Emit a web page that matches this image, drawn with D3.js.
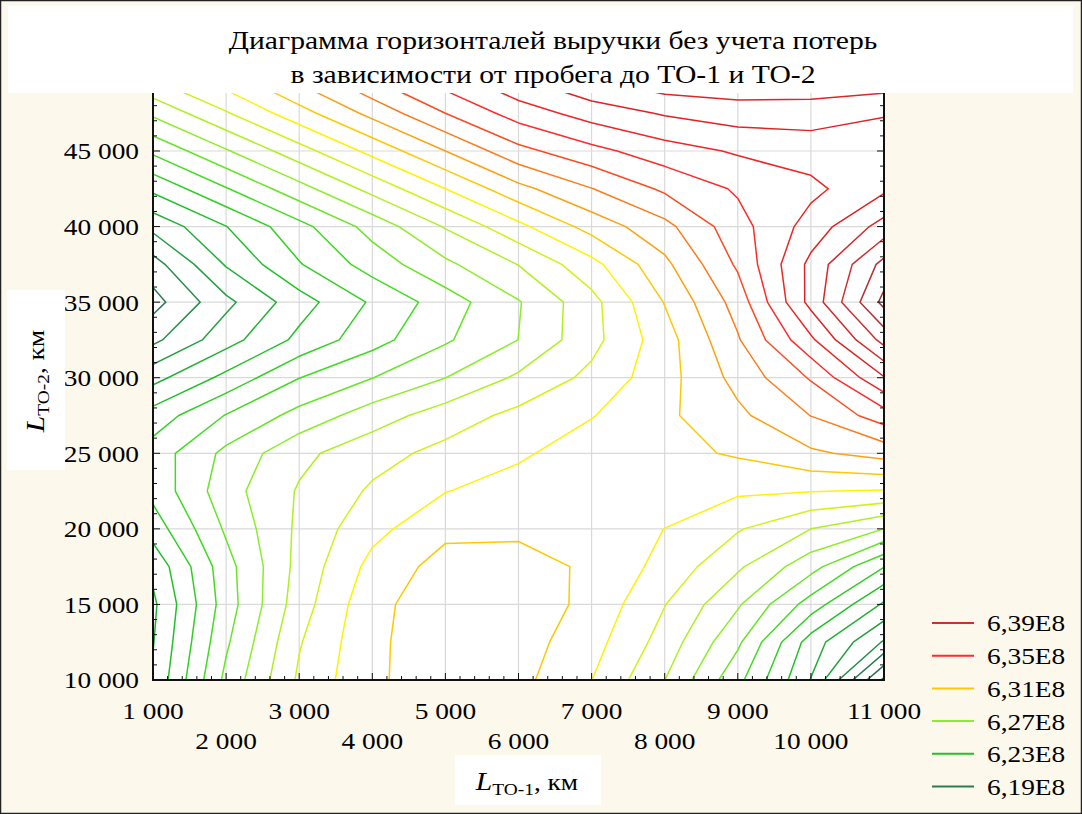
<!DOCTYPE html>
<html>
<head>
<meta charset="utf-8">
<script src="https://cdn.jsdelivr.net/npm/d3@7"></script>
<style>
  body { margin: 0; background: #fdf8ec; }
  svg text { font-family: 'Liberation Serif', 'Times New Roman', serif; fill: #000; }
</style>
</head>
<body>
<div id="chart"></div>
<script>
// Grid of the surface: пробег до ТО-1 (x) и ТО-2 (y), выручка в E8
const mileageTO1 = [1000, 2000, 3000, 4000, 5000, 6000, 7000, 8000, 9000, 10000, 11000];
const mileageTO2 = [10000, 12500, 15000, 17500, 20000, 22500, 25000, 27500, 30000,
                    32500, 35000, 37500, 40000, 42500, 45000, 47500, 50000];

// one row per mileageTO2 value, one column per mileageTO1 value
const revenue = [
  [6.2215, 6.2626, 6.2917, 6.3085, 6.315, 6.313, 6.3001, 6.2801, 6.2529, 6.2196, 6.168],
  [6.2195, 6.2584, 6.2892, 6.308, 6.316, 6.3145, 6.3039, 6.2859, 6.2619, 6.2253, 6.1989],
  [6.218, 6.255, 6.2853, 6.3072, 6.316, 6.316, 6.3073, 6.2903, 6.2713, 6.2455, 6.2185],
  [6.2226, 6.2562, 6.2833, 6.3031, 6.314, 6.314, 6.3083, 6.2968, 6.2816, 6.2638, 6.2403],
  [6.2345, 6.2615, 6.2821, 6.297, 6.3075, 6.308, 6.306, 6.2999, 6.2909, 6.28, 6.2699],
  [6.243, 6.2659, 6.281, 6.2914, 6.2997, 6.304, 6.305, 6.305, 6.3015, 6.3004, 6.2993],
  [6.2445, 6.2625, 6.2774, 6.2864, 6.2929, 6.2985, 6.305, 6.307, 6.3112, 6.3184, 6.3237],
  [6.2343, 6.2505, 6.2633, 6.2751, 6.2849, 6.2927, 6.2995, 6.308, 6.3178, 6.3302, 6.3453],
  [6.2167, 6.2328, 6.2498, 6.2598, 6.2699, 6.2817, 6.2926, 6.3061, 6.3233, 6.341, 6.3693],
  [6.1976, 6.216, 6.2325, 6.2462, 6.2587, 6.2701, 6.2868, 6.3056, 6.329, 6.358, 6.3936],
  [6.1863, 6.2075, 6.2257, 6.2414, 6.255, 6.2693, 6.2867, 6.3105, 6.3341, 6.3733, 6.413],
  [6.1959, 6.2209, 6.2393, 6.2544, 6.2679, 6.2803, 6.2967, 6.3176, 6.3416, 6.3727, 6.4033],
  [6.2128, 6.2298, 6.2468, 6.2638, 6.2808, 6.2974, 6.3139, 6.327, 6.3462, 6.3641, 6.384],
  [6.2323, 6.2493, 6.2663, 6.2833, 6.30, 6.317, 6.3297, 6.3418, 6.3513, 6.3575, 6.368],
  [6.252, 6.269, 6.286, 6.303, 6.320, 6.337, 6.347, 6.3556, 6.3612, 6.3645, 6.366],
  [6.272, 6.289, 6.306, 6.323, 6.340, 6.3545, 6.3644, 6.371, 6.3751, 6.3747, 6.3705],
  [6.292, 6.307, 6.324, 6.3415, 6.3567, 6.3708, 6.3816, 6.389, 6.389, 6.389, 6.3883]
];

// contour levels every 0,01E8, legend shows every 4th
const contourLevels = d3.range(616, 643).map(d => d / 100);
const legendLevels = [6.39, 6.35, 6.31, 6.27, 6.23, 6.19];

const xTickValues = [1000, 2000, 3000, 4000, 5000, 6000, 7000, 8000, 9000, 10000, 11000];
const yTickValues = [10000, 15000, 20000, 25000, 30000, 35000, 40000, 45000];

// colour ramp of the lines
const rampStops = [6.17, 6.19, 6.21, 6.23, 6.25, 6.27, 6.29, 6.30, 6.31, 6.32, 6.33, 6.34, 6.35, 6.37, 6.39, 6.41];
const rampColors = ['#245e44', '#2e7a55', '#27a043', '#22c126', '#3fdc20', '#8cee2a', '#d2f216', '#fff200',
                    '#ffc800', '#ffa010', '#ff7a1a', '#ff4a1e', '#ff2a2a', '#e02222', '#c83232', '#a03232'];
const color = d3.scaleLinear().domain(rampStops).range(rampColors).clamp(true);

// the original font is a wide Times: stretch text horizontally
const stretch = 1.14;
function widen(sel, extra) {
  sel.each(function () {
    const t = d3.select(this);
    const tx = +t.attr('x') || 0, ty = +t.attr('y') || 0;
    t.attr('x', 0).attr('y', 0)
      .attr('transform', `translate(${tx},${ty}) ${extra || ''} scale(${stretch},1)`);
  });
}

const W = 1082, H = 814;
const svg = d3.select('#chart').append('svg')
  .attr('width', W).attr('height', H);

svg.append('rect').attr('x', 0.5).attr('y', 0.5).attr('width', W - 1).attr('height', H - 1)
  .attr('fill', '#fdf8ec').attr('stroke', '#222').attr('stroke-width', 1.5);

const x = d3.scaleLinear().domain([1000, 11000]).range([153, 884]);
const y = d3.scaleLinear().domain([10000, 45000]).range([680, 151]);

const plotTop = y(50000);

// plot background
svg.append('rect')
  .attr('x', x(1000)).attr('y', plotTop)
  .attr('width', x(11000) - x(1000)).attr('height', y(10000) - plotTop)
  .attr('fill', '#fff');

// grid
const grid = svg.append('g').attr('stroke', '#d9d9d9').attr('stroke-width', 1.2);
grid.selectAll('.vg').data(xTickValues.slice(1, -1)).enter().append('line')
  .attr('x1', d => x(d)).attr('x2', d => x(d))
  .attr('y1', plotTop).attr('y2', y(10000));
grid.selectAll('.hg').data(yTickValues.slice(1).concat([50000])).enter().append('line')
  .attr('x1', x(1000)).attr('x2', x(11000))
  .attr('y1', d => y(d)).attr('y2', d => y(d));

// contours
const nx = mileageTO1.length, ny = mileageTO2.length;
const flat = [];
revenue.forEach(row => row.forEach(v => flat.push(v)));

const gx = d3.scaleLinear().domain([0.5, nx - 0.5]).range([x(mileageTO1[0]), x(mileageTO1[nx - 1])]);
const gy = d3.scaleLinear().domain([0.5, ny - 0.5]).range([y(mileageTO2[0]), y(mileageTO2[ny - 1])]);

const contours = d3.contours().size([nx, ny]).thresholds(contourLevels)(flat);

const projection = d3.geoTransform({
  point: function (px, py) { this.stream.point(gx(px), gy(py)); }
});
const path = d3.geoPath(projection);

svg.append('clipPath').attr('id', 'plotClip')
  .append('rect')
  .attr('x', x(1000) + 1).attr('y', plotTop)
  .attr('width', x(11000) - x(1000) - 2).attr('height', y(10000) - plotTop - 1);

svg.append('g')
  .attr('clip-path', 'url(#plotClip)')
  .selectAll('path')
  .data(contours)
  .enter()
  .append('path')
  .attr('d', path)
  .attr('fill', 'none')
  .attr('stroke', d => color(d.value))
  .attr('stroke-width', 1.5)
  .attr('stroke-linejoin', 'round');

// axes frame
const frame = svg.append('g').attr('stroke', '#111');
frame.append('line').attr('x1', x(1000)).attr('x2', x(1000)).attr('y1', plotTop).attr('y2', y(10000) + 1)
  .attr('stroke-width', 2);
frame.append('line').attr('x1', x(1000) - 1).attr('x2', x(11000) + 1).attr('y1', y(10000)).attr('y2', y(10000))
  .attr('stroke-width', 2);
frame.append('line').attr('x1', x(11000)).attr('x2', x(11000)).attr('y1', plotTop).attr('y2', y(10000))
  .attr('stroke-width', 2);

// minor/major ticks, all pointing into the plot
const yMinor = d3.range(10000, 50001, 1000);
frame.selectAll('.ytl').data(yMinor).enter().append('line')
  .attr('x1', x(1000)).attr('x2', d => x(1000) + (d % 5000 === 0 ? 7 : 4))
  .attr('y1', d => y(d)).attr('y2', d => y(d)).attr('stroke-width', 1);
frame.selectAll('.ytr').data(yMinor).enter().append('line')
  .attr('x1', d => x(11000) - (d % 5000 === 0 ? 7 : 4)).attr('x2', x(11000))
  .attr('y1', d => y(d)).attr('y2', d => y(d)).attr('stroke-width', 1);
const xMinor = d3.range(1000, 11001, 200);
frame.selectAll('.xt').data(xMinor).enter().append('line')
  .attr('x1', d => x(d)).attr('x2', d => x(d))
  .attr('y1', d => y(10000) - (d % 1000 === 0 ? 7 : 4)).attr('y2', y(10000))
  .attr('stroke-width', 1);

// tick labels
const fmt = d => d3.format(',')(d).replace(/,/g, '\u00a0');
svg.selectAll('.ylab').data(yTickValues).enter().append('text')
  .attr('x', 139).attr('y', d => y(d)).attr('dy', '0.35em')
  .attr('text-anchor', 'end').attr('font-size', 24)
  .text(fmt)
  .call(widen);

svg.selectAll('.xlab').data(xTickValues).enter().append('text')
  .attr('x', d => x(d))
  .attr('y', (d, i) => i % 2 === 0 ? 719 : 749)
  .attr('text-anchor', 'middle').attr('font-size', 24)
  .text(fmt)
  .call(widen);

// title box
svg.append('rect').attr('x', 8).attr('y', 6).attr('width', 1065).attr('height', 87).attr('fill', '#fff');
svg.append('text').attr('x', 553).attr('y', 49).attr('text-anchor', 'middle').attr('font-size', 26)
  .text('Диаграмма горизонталей выручки без учета потерь')
  .call(widen);
svg.append('text').attr('x', 553).attr('y', 83).attr('text-anchor', 'middle').attr('font-size', 26)
  .text('в зависимости от пробега до ТО-1 и ТО-2')
  .call(widen);

// y axis title box
svg.append('rect').attr('x', 7).attr('y', 290).attr('width', 58).attr('height', 180).attr('fill', '#fff');
const yTitle = svg.append('text')
  .attr('transform', `translate(44,381) rotate(-90) scale(${stretch},1)`)
  .attr('text-anchor', 'middle');
yTitle.append('tspan').attr('font-style', 'italic').attr('font-size', 26).text('L');
yTitle.append('tspan').attr('font-size', 17).attr('dy', 5).text('TO-2');
yTitle.append('tspan').attr('font-size', 24).attr('dy', -5).text(', км');

// x axis title box
svg.append('rect').attr('x', 455).attr('y', 755).attr('width', 146).attr('height', 50).attr('fill', '#fff');
const xTitle = svg.append('text').attr('x', 527).attr('y', 790).attr('text-anchor', 'middle');
xTitle.append('tspan').attr('font-style', 'italic').attr('font-size', 26).text('L');
xTitle.append('tspan').attr('font-size', 17).attr('dy', 5).text('TO-1');
xTitle.append('tspan').attr('font-size', 24).attr('dy', -5).text(', км');
xTitle.call(widen);

// legend
const legend = svg.selectAll('.legend').data(legendLevels).enter().append('g')
  .attr('transform', (d, i) => `translate(932, ${623 + i * 32.7})`);
legend.append('line').attr('x1', 0).attr('x2', 42).attr('y1', 0).attr('y2', 0)
  .attr('stroke', d => color(d)).attr('stroke-width', 2);
legend.append('text').attr('x', 55).attr('dy', '0.35em').attr('font-size', 24)
  .text(d => String(d.toFixed(2)).replace('.', ',') + 'E8')
  .call(widen);
</script>
</body>
</html>
